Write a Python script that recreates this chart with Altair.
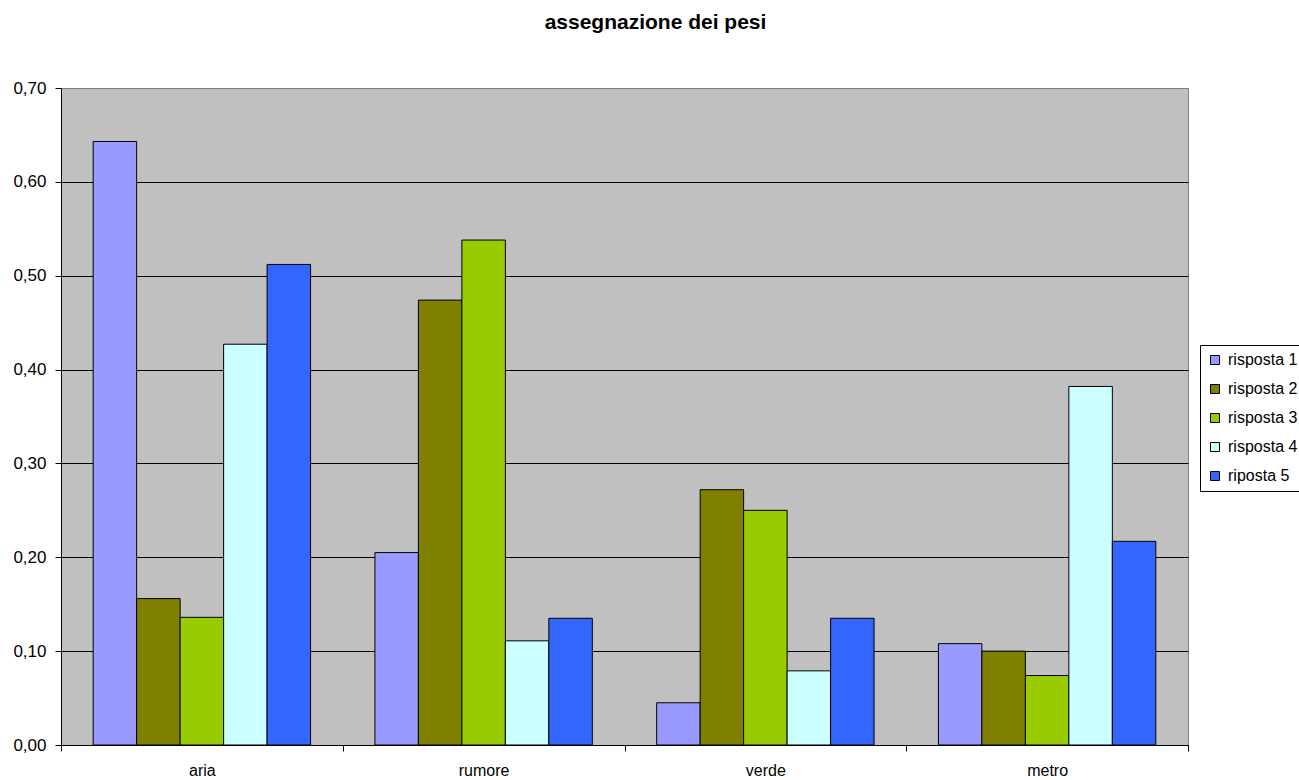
import altair as alt
import pandas as pd

categories = ["aria", "rumore", "verde", "metro"]
series = ["risposta 1", "risposta 2", "risposta 3", "risposta 4", "riposta 5"]
colors = ["#9999FF", "#808000", "#99CC00", "#CCFFFF", "#3366FF"]
values = {
    "risposta 1": [0.643, 0.205, 0.045, 0.108],
    "risposta 2": [0.156, 0.474, 0.272, 0.100],
    "risposta 3": [0.136, 0.538, 0.250, 0.074],
    "risposta 4": [0.427, 0.111, 0.079, 0.382],
    "riposta 5": [0.512, 0.135, 0.135, 0.217],
}
y_ticks = [0.0, 0.1, 0.2, 0.3, 0.4, 0.5, 0.6, 0.7]

rows = []
for s in series:
    for c, v in zip(categories, values[s]):
        rows.append({"categoria": c, "serie": s, "valore": v})
df = pd.DataFrame(rows)

FONT = "Liberation Sans"

chart = alt.Chart(df).mark_bar(stroke="black", strokeWidth=1).encode(
    x=alt.X(
        "categoria:N",
        sort=categories,
        title=None,
        scale=alt.Scale(paddingInner=0, paddingOuter=0),
        axis=alt.Axis(
            labelAngle=0,
            tickBand="extent",
            tickSize=6,
            tickColor="black",
            domainColor="black",
            labelPadding=11,
            labelFontSize=16,
            labelColor="black",
            labelFont=FONT,
            grid=False,
        ),
    ),
    xOffset=alt.XOffset("serie:N", sort=series, scale=alt.Scale(paddingOuter=0.74, paddingInner=0)),
    y=alt.Y(
        "valore:Q",
        title=None,
        scale=alt.Scale(domain=[0, 0.7], nice=False),
        axis=alt.Axis(
            values=y_ticks,
            labelExpr="replace(format(datum.value, '.2f'), '.', ',')",
            tickSize=6,
            tickColor="black",
            domainColor="black",
            labelPadding=9,
            labelFontSize=17,
            labelColor="black",
            labelFont=FONT,
            grid=True,
            gridColor={"condition": {"test": "datum.value >= 0.69", "value": "#808080"}, "value": "black"},
            gridWidth=1,
        ),
    ),
    color=alt.Color(
        "serie:N",
        sort=series,
        scale=alt.Scale(domain=series, range=colors),
        legend=alt.Legend(
            title=None,
            orient="none",
            legendX=1139,
            legendY=257,
            symbolType="square",
            symbolSize=81,
            symbolStrokeColor="black",
            symbolStrokeWidth=1,
            symbolOpacity=1,
            labelFontSize=16,
            labelFont=FONT,
            labelColor="black",
            labelOffset=5,
            rowPadding=13,
            padding=7,
            strokeColor="black",
            fillColor="white",
            labelLimit=200,
        ),
    ),
).properties(
    width=1127,
    height=657,
    autosize=alt.AutoSizeParams(type="none"),
    padding={"left": 61, "top": 88, "right": 111, "bottom": 35},
    background="white",
    title=alt.TitleParams(
        "assegnazione dei pesi",
        font=FONT,
        fontSize=21,
        fontWeight="bold",
        color="black",
        offset=46,
        dx=31,
    ),
).configure_view(
    fill="#C0C0C0",
    stroke="#808080",
    strokeWidth=1,
)

chart.save("out.html", embed_options={"renderer": "svg", "actions": False})
